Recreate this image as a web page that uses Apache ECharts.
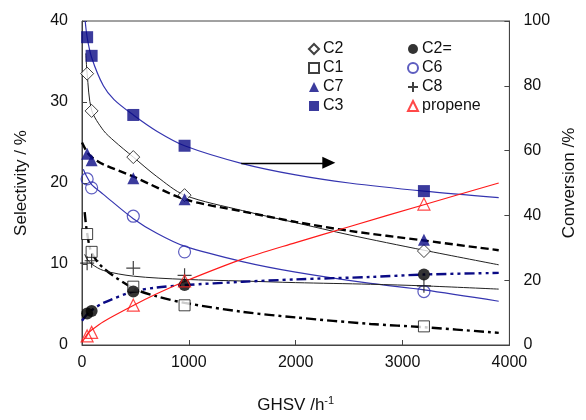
<!DOCTYPE html>
<html>
<head>
<meta charset="utf-8">
<script src="https://cdn.jsdelivr.net/npm/echarts@6/dist/echarts.min.js"></script>
<style>
  html, body { margin: 0; padding: 0; background: #fff; }
  #chart { width: 586px; height: 420px; }
</style>
</head>
<body>
<div id="chart"></div>
<script>
// measured points: [GHSV, value]
const c3Pts = [[48, 38.0], [90, 35.7], [480, 28.4], [960, 24.6], [3200, 19.0]]
const c2Pts = [[48, 33.5], [90, 28.9], [480, 23.2], [960, 18.5], [3200, 11.6]]
const c7Pts = [[48, 23.6], [90, 22.8], [480, 20.6], [960, 18.0], [3200, 13.0]]
const c6Pts = [[48, 20.5], [90, 19.4], [480, 15.9], [960, 11.5], [3200, 6.6]]
const c1Pts = [[48, 13.7], [90, 11.5], [480, 7.2], [960, 4.9], [3200, 2.3]]
const c8Pts = [[48, 10.1], [90, 10.4], [480, 9.5], [960, 8.6], [3200, 7.3]]
const c2ePts = [[48, 3.9], [90, 4.2], [480, 6.6], [960, 7.4], [3200, 8.7]]
const propenePts = [[48, 2.8], [90, 3.9], [480, 12.3], [960, 19.8], [3200, 43.5]]

// fitted trend curves
const c3Fit = [[30, 40], [48, 38], [90, 35.5], [200, 32], [300, 30.3], [480, 28.4], [700, 26.4], [960, 24.6], [1500, 22.4], [2000, 21], [2500, 20], [3200, 19], [3900, 18.2]]
const c2Fit = [[36, 36], [48, 33.5], [90, 29], [200, 26.5], [300, 25.2], [480, 23.2], [700, 20.8], [960, 18.5], [1500, 16.6], [2000, 15.1], [2500, 13.6], [3200, 11.7], [3900, 9.9]]
const c7Fit = [[0, 25], [48, 23.8], [90, 23.2], [200, 22.3], [480, 20.8], [960, 18], [1500, 16.5], [2000, 15.2], [2500, 14.1], [3200, 12.9], [3900, 11.7]]
const c6Fit = [[12, 21.7], [48, 20.7], [90, 19.8], [200, 18.6], [480, 15.6], [700, 13.8], [960, 12.2], [1500, 10.3], [2000, 9], [2700, 7.6], [3200, 6.8], [3900, 5.4]]
const c1Fit = [[25, 16.4], [48, 13.8], [90, 11.4], [200, 9.5], [480, 7.0], [700, 6.0], [960, 5.2], [1500, 4.1], [2000, 3.4], [2700, 2.6], [3200, 2.2], [3900, 1.5]]
const c8Fit = [[25, 11.2], [48, 10.6], [90, 10.0], [200, 9.2], [480, 8.5], [960, 8.1], [1500, 7.9], [2000, 7.7], [2700, 7.5], [3200, 7.3], [3900, 6.9]]
const c2eFit = [[0, 3.0], [48, 3.8], [90, 4.3], [200, 5.2], [480, 6.6], [700, 7.1], [960, 7.4], [1500, 7.8], [2000, 8.1], [2700, 8.4], [3200, 8.7], [3900, 8.9]]
const propeneFit = [[5, 1], [48, 3.3], [90, 4.6], [200, 7.2], [480, 12.2], [700, 15.8], [960, 19.6], [1500, 26.5], [2000, 31.6], [2500, 36.5], [3200, 43.3], [3900, 50]]

const arrowFrom = [1490, 22.5]
const arrowTo = [2310, 22.5]

const legendLeft = ['C2', 'C1', 'C7', 'C3']
const legendRight = ['C2=', 'C6', 'C8', 'propene']

const FONT = 'Liberation Sans, Arial, sans-serif'
const NAVY = '#0a0a85'
const BLUE = '#3535b0'
const plusPath = 'path://M0,5L10,5M5,0L5,10'

const chart = echarts.init(document.getElementById('chart'))

const fitLine = (data, color, width, type, yAxisIndex) => ({
  type: 'line',
  data: data,
  yAxisIndex: yAxisIndex || 0,
  smooth: 0.3,
  showSymbol: false,
  silent: true,
  z: 2,
  lineStyle: { color: color, width: width, type: type }
})

const pts = (name, data, symbol, size, style, yAxisIndex) => ({
  name: name,
  type: 'scatter',
  data: data,
  yAxisIndex: yAxisIndex || 0,
  symbol: symbol,
  symbolSize: size,
  itemStyle: style,
  z: 5
})

const openBlack = { color: '#fff', borderColor: '#111', borderWidth: 1 }
const legendText = { fontFamily: FONT, fontSize: 16, color: '#111', padding: [0, 0, 0, -1] }

chart.setOption({
  animation: false,
  backgroundColor: '#fff',
  textStyle: { fontFamily: FONT },
  grid: { left: 82, right: 66, top: 21, bottom: 75, show: true, borderColor: '#444', borderWidth: 1 },
  legend: [
    {
      data: legendLeft,
      orient: 'vertical',
      left: 303,
      top: 36,
      itemWidth: 10,
      itemHeight: 10,
      itemGap: 3,
      textStyle: legendText,
      selectedMode: false
    },
    {
      data: legendRight,
      orient: 'vertical',
      left: 402,
      top: 36,
      itemWidth: 10,
      itemHeight: 10,
      itemGap: 3,
      textStyle: legendText,
      selectedMode: false
    }
  ],
  xAxis: {
    type: 'value',
    min: 0,
    max: 4000,
    interval: 1000,
    name: 'GHSV /h{sup|-1}',
    nameLocation: 'middle',
    nameGap: 50,
    nameTextStyle: {
      fontFamily: FONT, fontSize: 17, color: '#111',
      rich: { sup: { fontSize: 11, verticalAlign: 'top', padding: [0, 0, 10, 0], fontFamily: FONT, color: '#111' } }
    },
    axisLine: { lineStyle: { color: '#444' } },
    axisTick: { inside: true, length: 5, lineStyle: { color: '#444' } },
    axisLabel: { fontSize: 16, color: '#111', margin: 10, formatter: (v) => String(v) },
    splitLine: { show: false }
  },
  yAxis: [
    {
      type: 'value',
      min: 0,
      max: 40,
      interval: 10,
      name: 'Selectivity / %',
      nameLocation: 'middle',
      nameGap: 52,
      nameTextStyle: { fontFamily: FONT, fontSize: 17, color: '#111' },
      axisLine: { show: true, lineStyle: { color: '#444' } },
      axisTick: { inside: true, length: 5, lineStyle: { color: '#444' } },
      axisLabel: { fontSize: 16, color: '#111', margin: 14 },
      splitLine: { show: false }
    },
    {
      type: 'value',
      min: 0,
      max: 100,
      interval: 20,
      position: 'right',
      name: 'Conversion /%',
      nameLocation: 'middle',
      nameGap: 48,
      nameRotate: 90,
      nameTextStyle: { fontFamily: FONT, fontSize: 17, color: '#111' },
      axisLine: { show: true, lineStyle: { color: '#444' } },
      axisTick: { inside: true, length: 5, lineStyle: { color: '#444' } },
      axisLabel: { fontSize: 16, color: '#111', margin: 14 },
      splitLine: { show: false }
    }
  ],
  series: [
    Object.assign(fitLine(c3Fit, BLUE, 1.2, 'solid'), {
      markLine: {
        silent: true,
        symbol: ['none', 'triangle'],
        symbolSize: [12, 13],
        label: { show: false },
        lineStyle: { color: '#000', width: 1.3, type: 'solid' },
        data: [[{ coord: arrowFrom }, { coord: arrowTo }]]
      }
    }),
    fitLine(c2Fit, '#222', 1, 'solid'),
    fitLine(c7Fit, '#000', 2.4, [8, 4]),
    fitLine(c6Fit, BLUE, 1.2, 'solid'),
    fitLine(c1Fit, '#000', 2.4, [10, 4, 3, 4]),
    fitLine(c8Fit, '#222', 1, 'solid'),
    fitLine(c2eFit, NAVY, 2.4, [10, 4, 3, 4, 3, 4]),
    fitLine(propeneFit, '#ff1a1a', 1.2, 'solid', 1),
    pts('C2', c2Pts, 'diamond', 13, openBlack),
    pts('C1', c1Pts, 'rect', 11, openBlack),
    pts('C7', c7Pts, 'triangle', 12, { color: NAVY }),
    pts('C3', c3Pts, 'rect', 12, { color: NAVY }),
    pts('C2=', c2ePts, 'circle', 12, { color: '#000' }),
    pts('C6', c6Pts, 'circle', 12, { color: 'rgba(255,255,255,0)', borderColor: BLUE, borderWidth: 1.2 }),
    pts('C8', c8Pts, plusPath, 14, { color: 'rgba(0,0,0,0)', borderColor: '#111', borderWidth: 1.2 }),
    pts('propene', propenePts, 'triangle', 12, { color: 'rgba(255,255,255,0)', borderColor: '#ff1a1a', borderWidth: 1.2 }, 1)
  ]
})
</script>
</body>
</html>
